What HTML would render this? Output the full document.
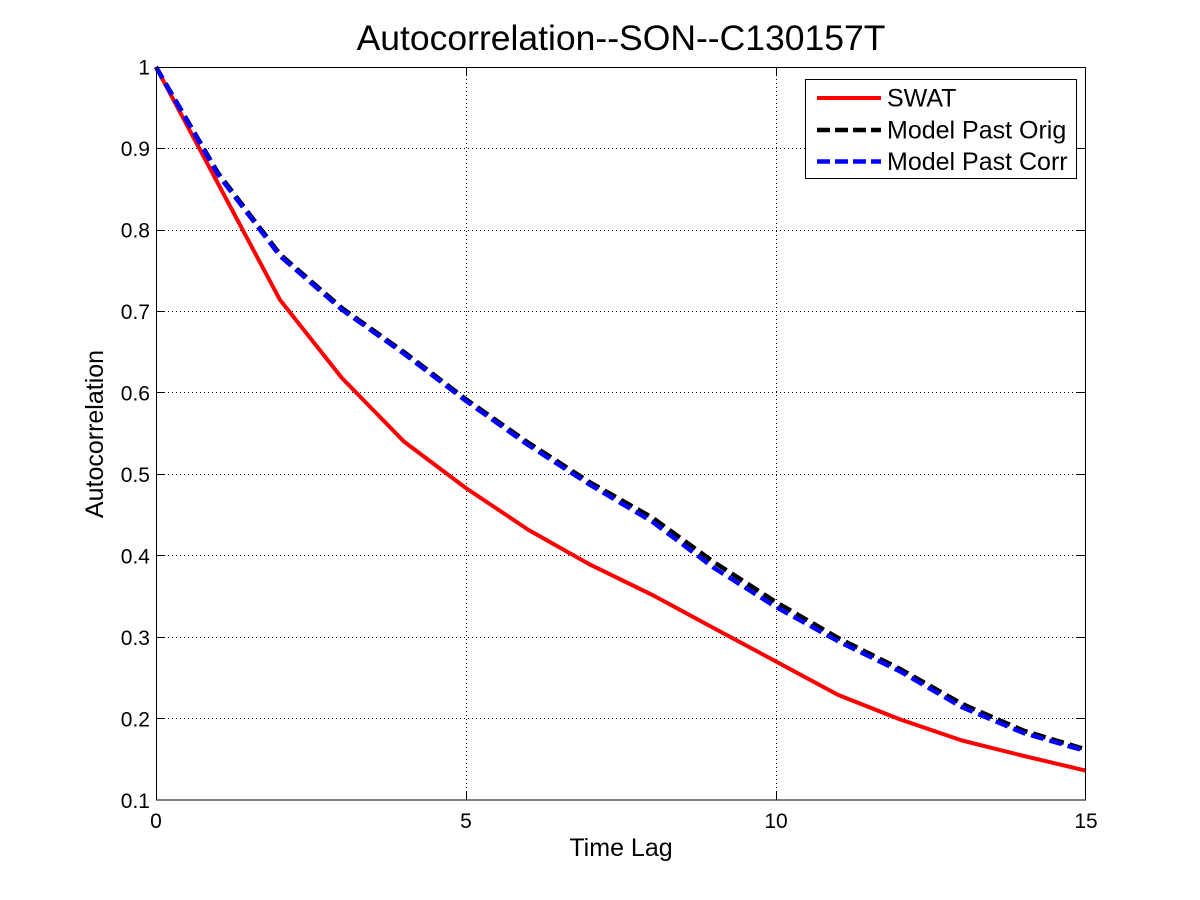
<!DOCTYPE html>
<html>
<head>
<meta charset="utf-8">
<style>
  html, body { margin: 0; padding: 0; background: #fff; }
  svg { display: block; }
  text { font-family: "Liberation Sans", Arial, sans-serif; fill: #000; }
</style>
</head>
<body>
<svg width="1200" height="900" viewBox="0 0 1200 900" xmlns="http://www.w3.org/2000/svg">
  <rect x="0" y="0" width="1200" height="900" fill="#fff"/>

  <!-- Grid -->
  <g stroke="#000" stroke-width="1" stroke-dasharray="1 3" fill="none">
    <line x1="466.5" y1="67" x2="466.5" y2="800"/>
    <line x1="776.5" y1="67" x2="776.5" y2="800"/>
    <line x1="156" y1="148.5" x2="1086" y2="148.5"/>
    <line x1="156" y1="230.5" x2="1086" y2="230.5"/>
    <line x1="156" y1="311.5" x2="1086" y2="311.5"/>
    <line x1="156" y1="392.5" x2="1086" y2="392.5"/>
    <line x1="156" y1="474.5" x2="1086" y2="474.5"/>
    <line x1="156" y1="555.5" x2="1086" y2="555.5"/>
    <line x1="156" y1="637.5" x2="1086" y2="637.5"/>
    <line x1="156" y1="718.5" x2="1086" y2="718.5"/>
  </g>

  <!-- Ticks -->
  <g stroke="#000" stroke-width="1" fill="none">
    <line x1="466.5" y1="800" x2="466.5" y2="791"/>
    <line x1="776.5" y1="800" x2="776.5" y2="791"/>
    <line x1="466.5" y1="67" x2="466.5" y2="76"/>
    <line x1="776.5" y1="67" x2="776.5" y2="76"/>
    <line x1="156" y1="148.5" x2="165" y2="148.5"/>
    <line x1="156" y1="230.5" x2="165" y2="230.5"/>
    <line x1="156" y1="311.5" x2="165" y2="311.5"/>
    <line x1="156" y1="392.5" x2="165" y2="392.5"/>
    <line x1="156" y1="474.5" x2="165" y2="474.5"/>
    <line x1="156" y1="555.5" x2="165" y2="555.5"/>
    <line x1="156" y1="637.5" x2="165" y2="637.5"/>
    <line x1="156" y1="718.5" x2="165" y2="718.5"/>
    <line x1="1086" y1="148.5" x2="1077" y2="148.5"/>
    <line x1="1086" y1="230.5" x2="1077" y2="230.5"/>
    <line x1="1086" y1="311.5" x2="1077" y2="311.5"/>
    <line x1="1086" y1="392.5" x2="1077" y2="392.5"/>
    <line x1="1086" y1="474.5" x2="1077" y2="474.5"/>
    <line x1="1086" y1="555.5" x2="1077" y2="555.5"/>
    <line x1="1086" y1="637.5" x2="1077" y2="637.5"/>
    <line x1="1086" y1="718.5" x2="1077" y2="718.5"/>
  </g>

  <!-- Series -->
  <g fill="none" stroke-linejoin="round">
    <polyline stroke="#ff0000" stroke-width="4"
      points="156,67 218,183.5 280,299.9 342,378.1 404,441.6 466,488.1 528,529.6 590,564.6 652,594.8 714,628.2 776,661.5 838,694.9 900,719.4 962,740.5 1024,756 1086,770.7"/>
    <polyline stroke="#000000" stroke-width="4.5" stroke-dasharray="13 6"
      points="156,67 218,172.9 280,254.3 342,308.1 404,352.1 466,399.3 528,442.5 590,482.4 652,517.4 714,562.2 776,602.1 838,637.9 900,668.9 962,703.9 1024,730.8 1086,749.5"/>
    <polyline stroke="#0000ff" stroke-width="4.5" stroke-dasharray="13 6"
      points="156,67 218,174.5 280,256 342,309.7 404,353.7 466,400.9 528,444.9 590,484.8 652,521.5 714,567.9 776,607 838,641.2 900,671.3 962,707.2 1024,733.2 1086,751.1"/>
  </g>

  <!-- Axes box -->
  <rect x="156.5" y="67.5" width="929" height="732.5" fill="none" stroke="#000" stroke-width="1"/>

  <!-- Y tick labels -->
  <g font-size="21" text-anchor="end">
    <text x="150" y="74.5">1</text>
    <text x="150" y="156">0.9</text>
    <text x="150" y="237.5">0.8</text>
    <text x="150" y="319">0.7</text>
    <text x="150" y="400.5">0.6</text>
    <text x="150" y="482">0.5</text>
    <text x="150" y="563.5">0.4</text>
    <text x="150" y="645">0.3</text>
    <text x="150" y="726.5">0.2</text>
    <text x="150" y="808">0.1</text>
  </g>

  <!-- X tick labels -->
  <g font-size="21" text-anchor="middle">
    <text x="156" y="828">0</text>
    <text x="466" y="828">5</text>
    <text x="776" y="828">10</text>
    <text x="1086" y="828">15</text>
  </g>

  <!-- Axis labels -->
  <text x="621" y="856" font-size="25" text-anchor="middle">Time Lag</text>
  <text transform="translate(103,434) rotate(-90)" font-size="25" text-anchor="middle">Autocorrelation</text>

  <!-- Title -->
  <text x="621" y="50" font-size="35.5" text-anchor="middle">Autocorrelation--SON--C130157T</text>

  <!-- Legend -->
  <rect x="805.5" y="79.5" width="271" height="99" fill="#fff" stroke="#000" stroke-width="1"/>
  <line x1="817" y1="98" x2="881" y2="98" stroke="#ff0000" stroke-width="4"/>
  <line x1="817" y1="130" x2="881" y2="130" stroke="#000" stroke-width="4.5" stroke-dasharray="13 5"/>
  <line x1="817" y1="161.5" x2="881" y2="161.5" stroke="#0000ff" stroke-width="4.5" stroke-dasharray="13 5"/>
  <g font-size="25">
    <text x="887" y="106.5">SWAT</text>
    <text x="887" y="138.5">Model Past Orig</text>
    <text x="887" y="170">Model Past Corr</text>
  </g>
</svg>
</body>
</html>
